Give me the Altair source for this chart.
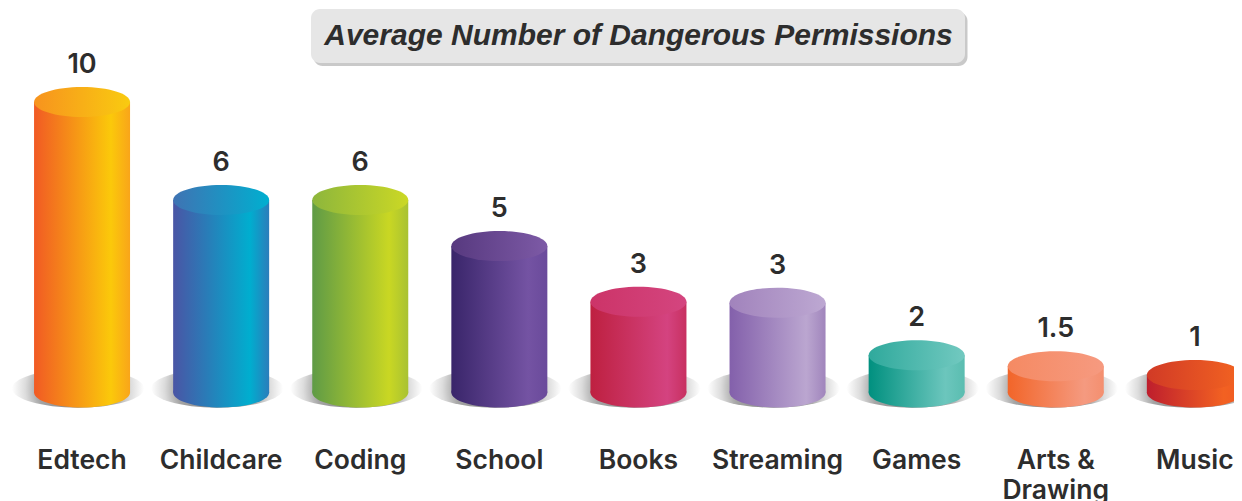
import altair as alt
import pandas as pd

categories = ["Edtech", "Childcare", "Coding", "School", "Books", "Streaming", "Games", "Arts & Drawing", "Music"]
value_labels = ["10", "6", "6", "5", "3", "3", "2", "1.5", "1"]
drawn_heights = [10.0, 6.63, 6.63, 5.04, 3.12, 3.09, 1.28, 0.90, 0.60]
side_dark = ["#F15A24", "#4A55A5", "#5F9B46", "#39256A", "#BE2040", "#8360AB", "#00907F", "#F26529", "#BE1E2D"]
side_light = ["#FBC90A", "#00AECF", "#C9D723", "#7453A3", "#D44380", "#BBA6D0", "#6CC6BD", "#F59A80", "#F26122"]
side_end = ["#F9A51A", "#2B7DBB", "#A9C233", "#6A4A9B", "#C83060", "#A085BC", "#5ABDB0", "#F48F6F", "#F05A22"]
top_dark = ["#F7931E", "#3F73B3", "#8DB63C", "#57397F", "#CC3468", "#A183BC", "#2FA99C", "#F58A63", "#D13A26"]
top_light = ["#F9CB10", "#00AFD0", "#CBD825", "#7D5AA6", "#D4457F", "#BDA8D2", "#72C9C0", "#F69A80", "#F36421"]
chart_title = "Average Number of Dangerous Permissions"

TEXT = "#2d2d2d"
FONT = "Inter"
ELLIPSE = "M-1,0 A1,0.3125,0,1,1,1,0 A1,0.3125,0,1,1,-1,0 Z"
SHADOW = "M-1,0 A1,0.29,0,1,1,1,0 A1,0.29,0,1,1,-1,0 Z"
CYL = 96

df = pd.DataFrame({"cat": categories, "h": drawn_heights, "label": value_labels})

x = alt.X(
    "cat:N", sort=categories, title=None,
    scale=alt.Scale(paddingInner=0, paddingOuter=0, range=[0, 1251.9]),
    axis=alt.Axis(
        domain=False, ticks=False, grid=False, labelAngle=0, labelPadding=75.5,
        labelFontSize=26.5, labelFont=FONT, labelFontWeight=600, labelColor=TEXT,
        labelLineHeight=30, labelLimit=300, labelAlign="center", labelBaseline="alphabetic",
        labelExpr="datum.label == 'Arts & Drawing' ? ['Arts &', 'Drawing'] : datum.label",
    ),
)
y = alt.Y("h:Q", title=None, axis=None, scale=alt.Scale(domain=[0, 13.236], nice=False))
y0 = alt.Y("zero:Q", title=None, axis=None, scale=alt.Scale(domain=[0, 13.236], nice=False))


def lin(stops):
    return alt.LinearGradient(
        gradient="linear", x1=0, x2=1, y1=0, y2=0,
        stops=[alt.GradientStop(offset=o, color=c) for o, c in stops],
    )


shadow_fill = alt.RadialGradient(
    gradient="radial", x1=0.5, y1=0.5, x2=0.5, y2=0.5, r1=0, r2=0.5,
    stops=[
        alt.GradientStop(offset=0, color="#777777"),
        alt.GradientStop(offset=0.6, color="#a4a4a4"),
        alt.GradientStop(offset=0.8, color="#dcdcdc"),
        alt.GradientStop(offset=1, color="#ffffff"),
    ],
)

layers = []
base = alt.Chart(df).transform_calculate(zero="0")
layers.append(
    base.mark_point(shape=SHADOW, size=132 ** 2, fill=shadow_fill, filled=True, opacity=1,
                    strokeOpacity=0, xOffset=-4, yOffset=-4).encode(x=x, y=y0)
)
for i, c in enumerate(categories):
    d = df[df["cat"] == c]
    side = lin([(0, side_dark[i]), (0.8, side_light[i]), (1, side_end[i])])
    top = lin([(0, top_dark[i]), (1, top_light[i])])
    one = alt.Chart(d).transform_calculate(zero="0")
    layers.append(one.mark_point(shape=ELLIPSE, size=CYL ** 2, fill=side, filled=True, opacity=1,
                                 strokeOpacity=0).encode(x=x, y=y0))
    layers.append(one.mark_bar(size=CYL, fill=side).encode(x=x, y=y))
    layers.append(one.mark_point(shape=ELLIPSE, size=CYL ** 2, fill=top, filled=True, opacity=1,
                                 strokeOpacity=0).encode(x=x, y=y))

layers.append(
    alt.Chart(df).mark_text(font=FONT, fontSize=27, fontWeight=600, color=TEXT, dy=-29,
                            baseline="alphabetic", align="center")
    .encode(x=x, y=y, text="label:N")
)

one_row = pd.DataFrame({"a": [0]})
layers.append(
    alt.Chart(one_row).mark_rect(cornerRadius=9, fill="#bcbcbc", opacity=0.8)
    .encode(x=alt.value(301), x2=alt.value(955), y=alt.value(4), y2=alt.value(58))
)
layers.append(
    alt.Chart(one_row).mark_rect(cornerRadius=9, fill="#e6e6e6")
    .encode(x=alt.value(298.5), x2=alt.value(952.5), y=alt.value(1), y2=alt.value(55))
)
layers.append(
    alt.Chart(one_row).mark_text(text=chart_title, font="Liberation Sans", fontSize=30, fontWeight="bold",
                                 fontStyle="italic", color=TEXT, align="center", baseline="alphabetic")
    .encode(x=alt.value(626), y=alt.value(37))
)

chart = (
    alt.layer(*layers)
    .properties(width=1221.5, height=384.5,
                autosize=alt.AutoSizeParams(type="none"),
                padding={"left": 4.5, "top": 0, "right": 0, "bottom": 108.5},
                background="white")
    .configure_view(stroke=None)
)
chart.save("out.html", embed_options={"renderer": "svg", "actions": False})
